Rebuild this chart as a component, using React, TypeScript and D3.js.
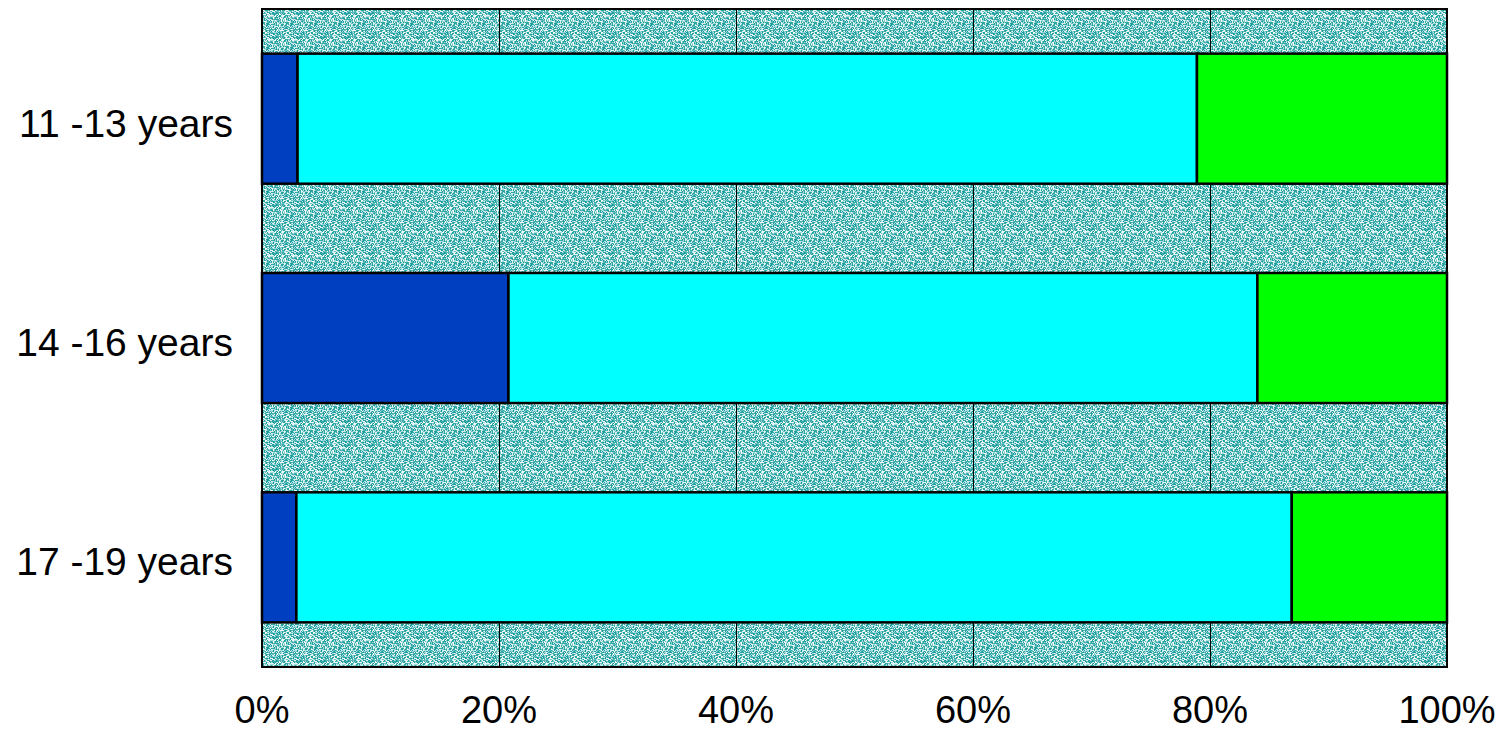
import React, { useMemo } from "react";
import * as d3 from "d3";

const categories = ["11 -13 years", "14 -16 years", "17 -19 years"];
const seriesNames = ["A", "B", "C"];
const seriesA = [3.0, 20.8, 2.9];
const seriesB = [75.9, 63.2, 84.0];
const seriesC = [21.1, 16.0, 13.1];
const xTicks = [0, 20, 40, 60, 80, 100];
const colors = ["#0040C0", "#00FFFF", "#00FF00"];

const W = 1503;
const H = 732;
const M = { left: 262, right: 56, top: 9, bottom: 65 };

function tilePixels() {
  // deterministic speckle texture (styling only)
  const px: { x: number; y: number; c: string }[] = [];
  let s = 12345;
  const next = () => {
    s = (s * 1103515245 + 12345) & 0x7fffffff;
    return s / 0x7fffffff;
  };
  const shades = ["#ffffff", "#d8f0f0", "#a8dcdc", "#6cc2c2", "#30a8a8", "#189c9c"];
  for (let y = 0; y < 24; y++) {
    for (let x = 0; x < 24; x++) {
      const r = next();
      const idx = r < 0.14 ? 0 : r < 0.28 ? 1 : r < 0.46 ? 2 : r < 0.64 ? 3 : r < 0.86 ? 4 : 5;
      px.push({ x, y, c: shades[idx] });
    }
  }
  return px;
}

export default function App() {
  const x = d3.scaleLinear().domain([0, 100]).range([M.left, W - M.right]);
  const y = d3
    .scaleBand<string>()
    .domain(categories)
    .range([M.top, H - M.bottom])
    .paddingInner(0.407)
    .paddingOuter(0.2035);
  const pixels = useMemo(tilePixels, []);

  const table = categories.map((c, i) => ({
    cat: c,
    A: seriesA[i],
    B: seriesB[i],
    C: seriesC[i],
  }));
  const stack = d3.stack<any>().keys(seriesNames)(table);

  return (
    <svg width={W} height={H} style={{ display: "block", position: "absolute", left: 0, top: 0 }}>
      <defs>
        <pattern id="speckle" patternUnits="userSpaceOnUse" width={24} height={24}>
          {pixels.map((p, i) => (
            <rect key={i} x={p.x} y={p.y} width={1} height={1} fill={p.c} shapeRendering="crispEdges" />
          ))}
        </pattern>
      </defs>
      <rect x={0} y={0} width={W} height={H} fill="#fff" />
      <rect
        x={x(0)}
        y={M.top}
        width={x(100) - x(0)}
        height={H - M.bottom - M.top}
        fill="url(#speckle)"
      />
      {xTicks.slice(1, -1).map((t) => (
        <line
          key={t}
          x1={x(t)}
          x2={x(t)}
          y1={M.top}
          y2={H - M.bottom}
          stroke="#000"
          strokeWidth={1}
          shapeRendering="crispEdges"
        />
      ))}
      {stack.map((s, si) =>
        s.map((d, i) => (
          <rect
            key={si + "-" + i}
            x={x(d[0])}
            y={y(categories[i])}
            width={x(d[1]) - x(d[0])}
            height={y.bandwidth()}
            fill={colors[si]}
            stroke="#000"
            strokeWidth={2.5}
          />
        ))
      )}
      <rect
        x={x(0)}
        y={M.top}
        width={x(100) - x(0)}
        height={H - M.bottom - M.top}
        fill="none"
        stroke="#000"
        strokeWidth={2}
      />
      {categories.map((c) => (
        <text
          key={c}
          x={233}
          y={(y(c) as number) + y.bandwidth() / 2 + 18}
          textAnchor="end"
          fontFamily="Liberation Sans, Arial, sans-serif"
          fontSize={39}
          fill="#000"
        >
          {c}
        </text>
      ))}
      {xTicks.map((t) => (
        <text
          key={t}
          x={x(t)}
          y={723}
          textAnchor="middle"
          fontFamily="Liberation Sans, Arial, sans-serif"
          fontSize={38}
          fill="#000"
        >
          {t + "%"}
        </text>
      ))}
    </svg>
  );
}
